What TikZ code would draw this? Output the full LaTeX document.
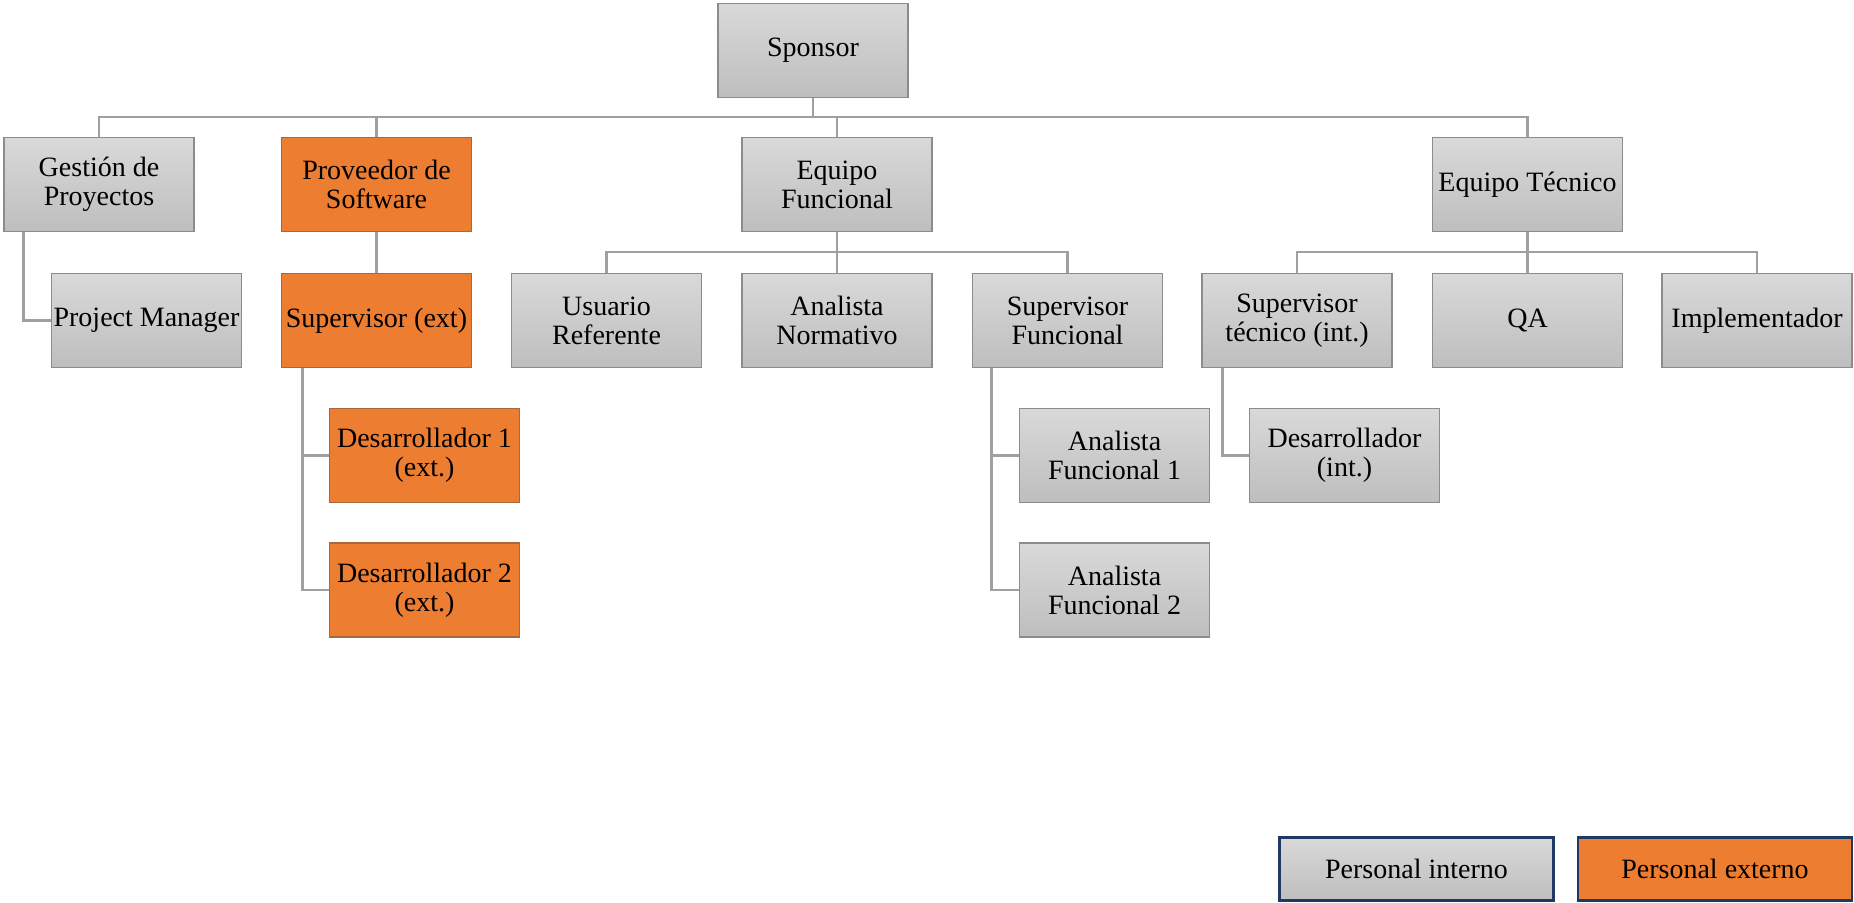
\documentclass[tikz,border=0pt]{standalone}
\usepackage{fontspec}
\setmainfont{Liberation Serif}
\definecolor{boxgrayT}{HTML}{D9D9D9}
\definecolor{boxgrayB}{HTML}{BEBEBE}
\definecolor{boxgrayL}{HTML}{8C8C8C}
\definecolor{orangeF}{HTML}{ED7D31}
\definecolor{orangeL}{HTML}{A8683F}
\definecolor{connC}{HTML}{A0A0A0}
\definecolor{navyL}{HTML}{1F3864}
\tikzset{
  base/.style={rectangle, minimum width=190pt, minimum height=94pt, inner sep=1pt,
    align=center, font=\fontsize{28}{29}\selectfont, line width=1.3pt},
  intbox/.style={base, draw=boxgrayL, top color=boxgrayT, bottom color=boxgrayB},
  extbox/.style={base, draw=orangeL, fill=orangeF},
  conn/.style={draw=connC, line width=2.9pt},
  legint/.style={base, minimum width=274pt, minimum height=63pt, draw=navyL, line width=2.4pt, top color=boxgrayT, bottom color=boxgrayB},
  legext/.style={base, minimum width=274pt, minimum height=63pt, draw=navyL, line width=2.4pt, fill=orangeF}
}
\begin{document}
\begin{tikzpicture}[x=1pt,y=-1pt]
\useasboundingbox (0,0) rectangle (1854,902);
\coordinate (bus1) at (813,117);
\coordinate (bus2) at (837,252);
\coordinate (bus3) at (1527.5,252);
% nodes
\node[intbox] (sponsor) at (813,50.5) {Sponsor};
\node[intbox] (gest) at (99,184.5) {Gestión de\\Proyectos};
\node[extbox] (prov) at (376.5,184.5) {Proveedor de\\Software};
\node[intbox] (efun) at (837,184.5) {Equipo\\Funcional};
\node[intbox] (etec) at (1527.5,184.5) {Equipo Técnico};
\node[intbox] (pm) at (146.5,320.5) {Project Manager};
\node[extbox] (supext) at (376.5,320.5) {Supervisor (ext)};
\node[intbox] (usr) at (606.5,320.5) {Usuario\\Referente};
\node[intbox] (anorm) at (837,320.5) {Analista\\Normativo};
\node[intbox] (supfun) at (1067.5,320.5) {Supervisor\\Funcional};
\node[intbox] (suptec) at (1297,320.5) {Supervisor\\técnico (int.)};
\node[intbox] (qa) at (1527.5,320.5) {QA};
\node[intbox] (impl) at (1757,320.5) {Implementador};
\node[extbox] (des1) at (424.5,455.5) {Desarrollador 1\\(ext.)};
\node[intbox] (af1) at (1114.5,455.5) {Analista\\Funcional 1};
\node[intbox] (desint) at (1344.5,455.5) {Desarrollador\\(int.)};
\node[extbox] (des2) at (424.5,590) {Desarrollador 2\\(ext.)};
\node[intbox] (af2) at (1114.5,590) {Analista\\Funcional 2};
\node[legint] (lint) at (1416.5,869) {Personal interno};
\node[legext] (lext) at (1715,869) {Personal externo};
% connectors
\draw[conn] (sponsor.south) -- (bus1);
\draw[conn] (gest.north) |- (bus1) -| (etec.north);
\draw[conn] (prov.north) -- (prov.north |- bus1);
\draw[conn] (efun.north) -- (efun.north |- bus1);
\draw[conn] (efun.south) -- (bus2);
\draw[conn] (usr.north) |- (bus2) -| (supfun.north);
\draw[conn] (anorm.north) -- (bus2);
\draw[conn] (etec.south) -- (bus3);
\draw[conn] (suptec.north) |- (bus3) -| (impl.north);
\draw[conn] (qa.north) -- (bus3);
\draw[conn] (prov.south) -- (supext.north);
\draw[conn] ([xshift=20pt]gest.south west) |- (pm.west);
\draw[conn] ([xshift=22pt]supext.south west) |- (des1.west);
\draw[conn] ([xshift=22pt]supext.south west) |- (des2.west);
\draw[conn] ([xshift=20pt]supfun.south west) |- (af1.west);
\draw[conn] ([xshift=20pt]supfun.south west) |- (af2.west);
\draw[conn] ([xshift=21pt]suptec.south west) |- (desint.west);
\end{tikzpicture}
\end{document}
